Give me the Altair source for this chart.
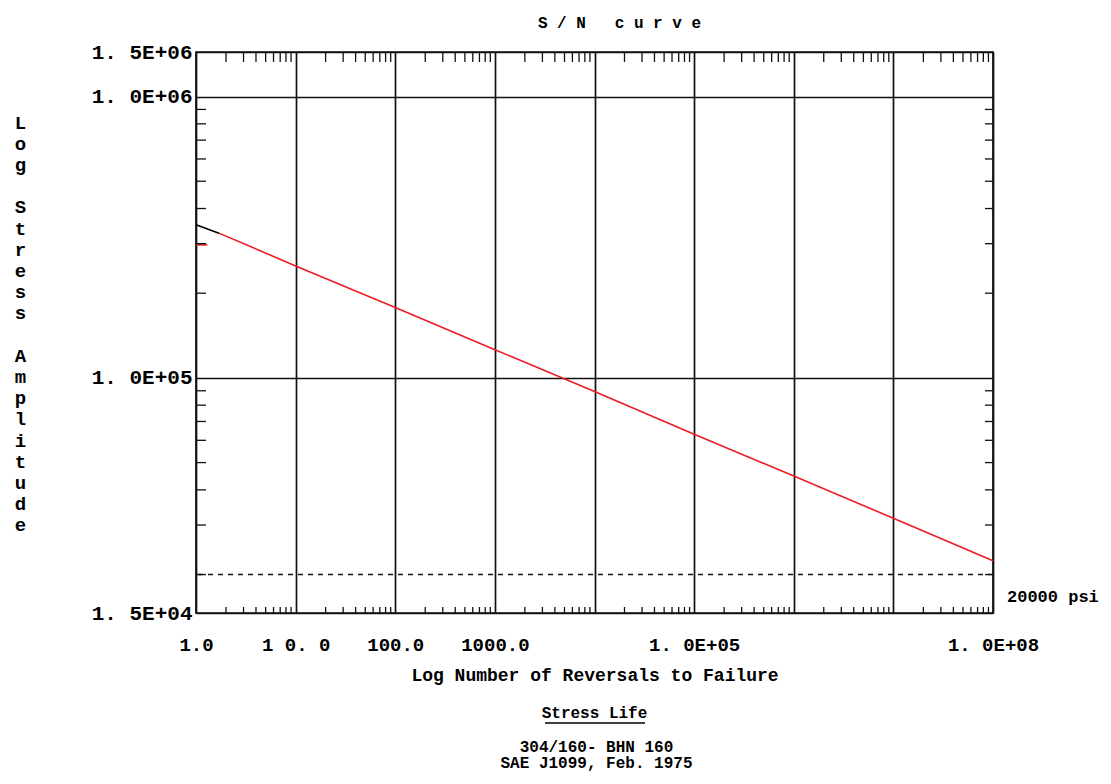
import altair as alt
import pandas as pd

# ---------------- data ----------------
CURVE_N = [1.7, 10, 100, 1000, 1e4, 1e5, 1e6, 1e7, 1e8]
CURVE_S = [327000, 250000, 178000, 126000, 89500, 63000, 44800, 31700, 22400]
START_N = [1.0, 1.7]
START_S = [350000, 327000]
STUB_N = [1.0, 1.3]
STUB_S = [297000, 297000]
ENDURANCE_S = [20000]
ENDURANCE_LABEL = ["20000 psi"]

X_DOMAIN = [1, 1e8]
Y_DOMAIN = [14600, 1440000]
X_GRID = [1, 10, 100, 1e3, 1e4, 1e5, 1e6, 1e7, 1e8]
X_TICK_VALUES = [1, 10, 100, 1000, 1e5, 1e8]
X_TICK_LABELS = ["1.0", "1 0. 0", "100.0", "1000.0", "1. 0E+05", "1. 0E+08"]
Y_TICK_VALUES = [14600, 1e5, 1e6, 1440000]
Y_TICK_LABELS = ["1. 5E+04", "1. 0E+05", "1. 0E+06", "1. 5E+06"]
MINOR_MULT = [2, 3, 4, 5, 6, 7, 8, 9]
X_MINOR = [m * 10 ** k for k in range(8) for m in MINOR_MULT]
Y_MINOR = [m * 10 ** k for k in (4, 5) for m in MINOR_MULT]

NB = "\u00a0"
TITLE = "S / N" + NB * 3 + "c u r v e"
X_TITLE = "Log Number of Reversals to Failure"
GAP = "\u2800"
Y_TITLE = ["L", "o", "g", GAP, "S", "t", "r", "e", "s", "s", GAP,
           "A", "m", "p", "l", "i", "t", "u", "d", "e"]
NOTE_HEAD = ["Stress Life"]
NOTE_LINES = ["304/160- BHN 160", "SAE J1099, Feb. 1975"]

# ---------------- layout ----------------
W, H = 797, 561
FONT = "Liberation Mono"
RED = "#ec1c24"
INK = "#111111"


def label_expr(values, labels):
    parts = [f"abs(datum.value - {v}) < {v * 1e-6} ? '{l}'" for v, l in zip(values, labels)]
    return " : ".join(parts) + " : ''"


xs = alt.Scale(type="log", domain=X_DOMAIN)
ys = alt.Scale(type="log", domain=Y_DOMAIN)

x_axis = alt.Axis(values=X_GRID, labelExpr=label_expr(X_TICK_VALUES, X_TICK_LABELS),
                  grid=True, gridColor=INK, gridWidth=1.7, ticks=False, domain=False,
                  labelPadding=22, labelFontSize=19, labelFont=FONT, labelFontWeight="bold",
                  labelColor="black", labelFlush=False, labelOverlap=False,
                  title=X_TITLE, titleFont=FONT, titleFontSize=18, titleFontWeight="bold",
                  titleColor="black", titlePadding=12)
y_axis = alt.Axis(values=Y_TICK_VALUES, labelExpr=label_expr(Y_TICK_VALUES, Y_TICK_LABELS),
                  grid=True, gridColor=INK, gridWidth=1.7, ticks=False, domain=False,
                  labelPadding=4, labelFontSize=21, labelFont=FONT, labelFontWeight="bold",
                  labelColor="black", labelOverlap=False, labelBaseline="middle",
                  title=Y_TITLE, titleAngle=0, titleX=-176, titleY=61, titleBaseline="top",
                  titleAlign="center", titleLineHeight=21.2, titleFont=FONT, titleFontSize=19,
                  titleFontWeight="bold", titleColor="black")


def X():
    return alt.X("N:Q", scale=xs, axis=x_axis)


def Y():
    return alt.Y("S:Q", scale=ys, axis=y_axis)


curve_df = pd.DataFrame({"N": CURVE_N, "S": CURVE_S})
start_df = pd.DataFrame({"N": START_N, "S": START_S})
stub_df = pd.DataFrame({"N": STUB_N, "S": STUB_S})
end_df = pd.DataFrame({"S": ENDURANCE_S, "t": ENDURANCE_LABEL})
xminor_df = pd.DataFrame({"N": X_MINOR})
yminor_df = pd.DataFrame({"S": Y_MINOR})
one = pd.DataFrame({"a": [0]})

curve = alt.Chart(curve_df).mark_line(color=RED, strokeWidth=1.6).encode(x=X(), y=Y())
start = alt.Chart(start_df).mark_line(color="black", strokeWidth=1.6).encode(x=X(), y=Y())
stub = alt.Chart(stub_df).mark_line(color=RED, strokeWidth=1.6).encode(x=X(), y=Y())
endurance = alt.Chart(end_df).mark_rule(color=INK, strokeWidth=1.5, strokeDash=[5, 5]).encode(y=Y())
psi = alt.Chart(end_df).mark_text(align="left", baseline="middle", dy=22, font=FONT,
                                  fontSize=17, fontWeight="bold", color="black").encode(
    y=Y(), x=alt.value(W + 14), text="t:N")

tick_style = dict(color=INK, strokeWidth=1.3)
bottom_ticks = alt.Chart(xminor_df).mark_rule(**tick_style).encode(
    x=X(), y=alt.value(H), y2=alt.value(H - 6))
top_ticks = alt.Chart(xminor_df).mark_rule(**tick_style).encode(
    x=X(), y=alt.value(0), y2=alt.value(10))
left_ticks = alt.Chart(yminor_df).mark_rule(**tick_style).encode(
    y=Y(), x=alt.value(0), x2=alt.value(10))
right_ticks = alt.Chart(yminor_df).mark_rule(**tick_style).encode(
    y=Y(), x=alt.value(W - 8), x2=alt.value(W))

head = alt.Chart(pd.DataFrame({"t": NOTE_HEAD})).mark_text(
    font=FONT, fontSize=16, fontWeight="bold", color="black", baseline="middle").encode(
    text="t:N", x=alt.value(W / 2), y=alt.value(661))
underline = alt.Chart(one).mark_rule(color="black", strokeWidth=1.3).encode(
    x=alt.value(349), x2=alt.value(449), y=alt.value(671))
notes = alt.Chart(pd.DataFrame({"t": ["\n".join(NOTE_LINES)]})).mark_text(
    font=FONT, fontSize=16, fontWeight="bold", color="black", baseline="middle",
    lineBreak="\n", lineHeight=16).encode(
    text="t:N", x=alt.value(W / 2 + 2), y=alt.value(695))

chart = alt.layer(curve, start, stub, endurance, psi, bottom_ticks, top_ticks,
                  left_ticks, right_ticks, head, underline, notes).properties(
    width=W, height=H,
    title=alt.Title(TITLE, font=FONT, fontSize=16, fontWeight="bold", color="black",
                    anchor="middle", dx=25, offset=10, frame="group"),
    autosize=alt.AutoSizeParams(type="none"),
    padding={"left": 188, "top": 44, "right": 110, "bottom": 159},
    background="white",
).configure_view(stroke=INK, strokeWidth=1.7)

chart.save("out.html", embed_options={"renderer": "svg", "actions": False})
